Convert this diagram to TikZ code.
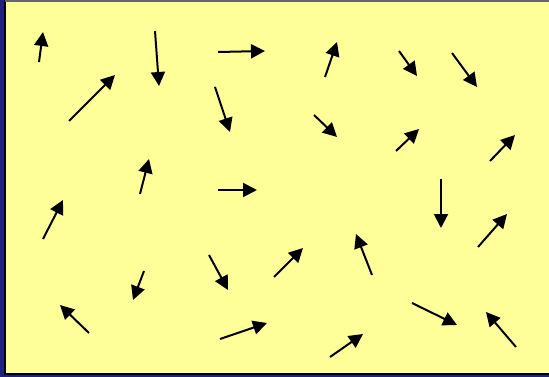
\documentclass[tikz,border=0pt]{standalone}
\usepackage{tikz}
\usetikzlibrary{arrows.meta}
\definecolor{frameblue}{RGB}{34, 34, 120}
\definecolor{paleyellow}{RGB}{255, 255, 153}

\begin{document}
\begin{tikzpicture}[x=1pt, y=-1pt]
    \tikzstyle{vec} = [line width=2pt, -{Triangle[length=14pt, width=14pt]}, draw=black]

    % Frame
    \useasboundingbox (0,0) rectangle (549,377);
    \fill[frameblue] (0,0) rectangle (549,377);
    \fill[paleyellow] (5,0) rectangle (549,374);
    \draw[black, line width=2pt] (5,0) -- (5,374) -- (549,374);
    \draw[black!60, line width=1.6pt] (5,0.8) -- (549,0.8);

    % Arrows (tail/tip)
    \foreach \xa/\ya/\xb/\yb in {
        39/62/43/32, 155/31/159/86, 218/52/265/51, 325/77/337/42, 399/51/417/76, 452/53/477/87,
        69/121/115/75, 215/87/230/132, 314/115/337/137, 396/151/419/129, 490/161/515/135,
        140/194/149/159, 218/190/257/190, 441/179/441/228, 43/239/63/200, 478/247/507/214,
        144/271/133/300, 209/255/228/290, 274/277/303/248, 372/275/356/234,
        89/333/60/305, 220/339/267/323, 412/303/457/325, 516/347/486/312, 330/357/363/334}
        \draw [vec] (\xa,\ya) -- (\xb,\yb);
\end{tikzpicture}
\end{document}
